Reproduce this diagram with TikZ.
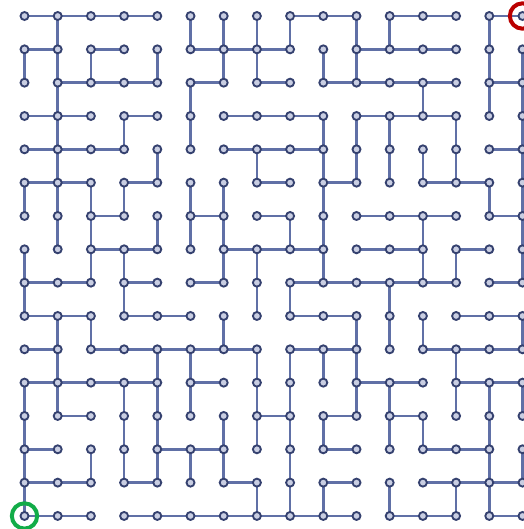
\documentclass[tikz,border=0pt]{standalone}
\usepackage{tikz}
\definecolor{MazeLine}{HTML}{6070A6}
\definecolor{MazeDot}{HTML}{35416F}
\definecolor{DotCore}{HTML}{C9CEE2}
\definecolor{StartGreen}{HTML}{12AC48}
\definecolor{GoalRed}{HTML}{BA0000}
\begin{document}
\begin{tikzpicture}[x=0.75pt,y=-0.75pt,
  passage/.style={draw=MazeLine,line width=2pt},
  mdot/.style={circle,draw=MazeDot,fill=DotCore,line width=1.4pt,minimum size=6pt,inner sep=0pt},
  marker/.style={circle,line width=3pt,minimum size=19pt,inner sep=0pt}]
  \useasboundingbox (0,0) rectangle (524,529);
  \foreach \c in {0,...,15}{
    \foreach \r in {0,...,15}{
      \coordinate (p-\c-\r) at ({24.5+33.2*\c},{16+33.33*\r});
    }
  }
  \foreach \r/\a/\b in {0/0/4,0/8/10,0/11/13,0/14/15,
    1/0/1,1/2/3,1/5/8,1/10/13,
    2/1/4,2/5/6,2/7/8,2/9/13,2/14/15,
    3/0/2,3/3/4,3/6/9,3/10/13,
    4/0/3,4/6/9,4/14/15,
    5/0/2,5/3/4,5/7/8,5/9/10,5/12/14,
    6/2/3,6/5/6,6/7/8,6/10/13,6/14/15,
    7/2/4,7/6/9,7/10/12,7/13/14,
    8/0/2,8/3/4,8/5/6,8/8/13,8/14/15,
    9/0/2,9/3/5,9/8/10,9/13/15,
    10/0/1,10/2/7,10/8/10,10/12/15,
    11/0/4,11/5/6,11/10/12,11/13/15,
    12/1/2,12/7/8,12/9/10,12/11/12,
    13/0/1,13/4/6,13/9/10,13/12/14,
    14/0/2,14/3/4,14/6/7,14/9/10,14/12/15,
    15/0/2,15/3/10,15/11/13,15/14/15}{
    \draw[passage] (p-\a-\r) -- (p-\b-\r);
  }
  \foreach \c/\a/\b in {0/1/2,0/5/6,0/7/9,0/11/15,
    1/0/7,1/9/12,
    2/1/2,2/5/8,2/9/10,2/13/14,
    3/3/4,3/5/6,3/7/9,3/11/14,
    4/1/2,4/4/5,4/6/7,4/10/14,
    5/0/1,5/2/4,5/5/7,5/10/12,5/13/14,
    6/0/2,6/5/8,6/9/10,6/12/14,
    7/0/2,7/4/5,7/7/9,7/10/13,7/14/15,
    8/0/1,8/6/7,8/8/9,8/10/15,
    9/1/2,9/3/8,9/10/11,9/12/13,9/14/15,
    10/0/2,10/3/5,10/9/12,
    11/0/1,11/3/5,11/8/10,11/11/13,11/14/15,
    12/2/3,12/4/5,12/6/8,12/9/10,12/12/13,
    13/3/5,13/7/8,13/10/12,13/14/15,
    14/0/3,14/5/6,14/11/15,
    15/1/8,15/9/10,15/11/12,15/13/14}{
    \draw[passage] (p-\c-\a) -- (p-\c-\b);
  }
  \foreach \c in {0,...,15}{
    \foreach \r in {0,...,15}{
      \node[mdot] (n-\c-\r) at (p-\c-\r) {};
    }
  }
  \node[marker,draw=StartGreen] (entry) at (n-0-15) {};
  \node[marker,draw=GoalRed] (exit) at (n-15-0) {};
\end{tikzpicture}
\end{document}
